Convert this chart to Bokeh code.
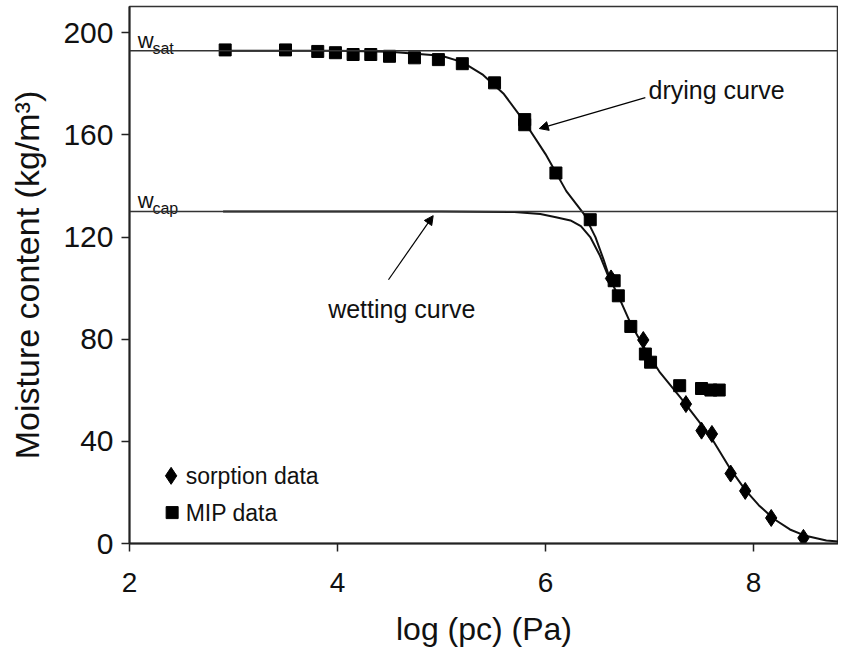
from bokeh.plotting import figure
from bokeh.models import Range1d, Span, Arrow, NormalHead, FixedTicker
from bokeh.core.properties import value
from bokeh.embed import file_html
from bokeh.resources import INLINE

# ---------------- data ----------------
mip_x = [2.92, 3.50, 3.81, 3.98, 4.15, 4.32, 4.50, 4.74, 4.97, 5.20, 5.51, 5.80, 5.80, 6.10, 6.43,
         6.66, 6.70, 6.82, 6.96, 7.01, 7.29, 7.50, 7.59, 7.67]
mip_y = [193.3, 193.3, 192.7, 192.2, 191.5, 191.5, 190.8, 190.2, 189.5, 187.9, 180.4, 166.0, 164.0, 145.1, 126.8,
         102.9, 97.0, 85.0, 74.2, 71.0, 61.8, 60.7, 60.1, 60.1]

sorp_x = [6.63, 6.94, 7.35, 7.50, 7.60, 7.78, 7.92, 8.17, 8.48]
sorp_y = [103.8, 79.7, 54.6, 44.2, 42.9, 27.4, 20.6, 10.0, 2.2]

dry_x = [2.92, 4.00, 4.50, 5.00, 5.20, 5.40, 5.60, 5.80, 6.00, 6.20, 6.37, 6.48, 6.56, 6.62,
         6.70, 6.82, 6.96, 7.10, 7.30, 7.50, 7.60, 7.78, 7.92, 8.05, 8.20, 8.35, 8.50, 8.70, 8.90]
dry_y = [193.0, 193.0, 192.6, 191.0, 188.5, 183.5, 176.0, 165.0, 152.5, 138.0, 129.0, 120.0, 111.0, 103.5,
         97.0, 86.0, 76.0, 67.0, 57.0, 46.5, 41.0, 29.0, 21.0, 15.0, 9.5, 5.5, 3.0, 1.2, 0.4]

wet_x = [2.90, 4.00, 5.00, 5.70, 5.95, 6.10, 6.24, 6.34, 6.43, 6.52, 6.60, 6.62]
wet_y = [130.0, 130.0, 130.0, 129.8, 129.0, 127.8, 126.5, 124.3, 120.0, 113.0, 105.0, 103.5]

w_sat = 193.0
w_cap = 130.0

x_ticks = [2, 4, 6, 8]
y_ticks = [0, 40, 80, 120, 160, 200]

# ---------------- figure ----------------
p = figure(width=838, height=651, output_backend="svg", toolbar_location=None,
           x_range=Range1d(2, 8.817), y_range=Range1d(0, 210.3),
           min_border_left=129, min_border_right=0, min_border_top=6, min_border_bottom=108)
p.background_fill_color = "white"
p.border_fill_color = "white"
p.outline_line_color = "#333333"
p.outline_line_width = 1.5
p.grid.visible = False

FONT = "Liberation Sans"

p.xaxis.ticker = FixedTicker(ticks=x_ticks)
p.yaxis.ticker = FixedTicker(ticks=y_ticks)
for ax in (p.xaxis[0], p.yaxis[0]):
    ax.axis_line_color = "#222222"
    ax.axis_line_width = 2
    ax.major_tick_line_color = "#222222"
    ax.major_tick_line_width = 1.5
    ax.major_tick_out = 8
    ax.major_tick_in = 0
    ax.minor_tick_line_color = None
    ax.major_label_text_font = FONT
    ax.major_label_text_color = "#111111"
    ax.axis_label_text_font = FONT
    ax.axis_label_text_font_style = "normal"
    ax.axis_label_text_color = "#111111"

p.xaxis.major_label_text_font_size = "28px"
p.xaxis.major_label_standoff = 21
p.xaxis.axis_label = "log (pc) (Pa)"
p.xaxis.axis_label_text_font_size = "32px"
p.xaxis.axis_label_standoff = 16

p.yaxis.major_label_text_font_size = "30px"
p.yaxis.major_label_standoff = 8
p.yaxis.axis_label = "Moisture content (kg/m\u00b3)"
p.yaxis.axis_label_text_font_size = "34px"
p.yaxis.axis_label_standoff = 14

# reference lines
p.add_layout(Span(location=w_sat, dimension="width", line_color="#333333", line_width=1.5))
p.add_layout(Span(location=w_cap, dimension="width", line_color="#333333", line_width=1.5))

# curves
p.line(dry_x, dry_y, line_color="#111111", line_width=2)
p.line(wet_x, wet_y, line_color="#111111", line_width=2)

# markers
p.scatter(mip_x, mip_y, marker="square", size=12, fill_color="black", line_color="black")
p.scatter(sorp_x, sorp_y, marker="diamond", size=17, fill_color="black", line_color="black")

# w labels
p.text(x=[2.08, 2.08], y=[197.0, 134.2], text=["w", "w"], text_font=value(FONT),
       text_font_size="22px", text_baseline="alphabetic", text_color="#111111")
p.text(x=[2.22, 2.22], y=[194.0, 131.2], text=["sat", "cap"], text_font=value(FONT),
       text_font_size="16px", text_baseline="alphabetic", text_color="#111111")

# annotations
p.text(x=[6.99, 3.91], y=[177.6, 92.0], text=["drying curve", "wetting curve"], text_font=value(FONT),
       text_font_size="25px", text_baseline="middle", text_align="left", text_color="#111111")
p.add_layout(Arrow(x_start=6.96, y_start=174.6, x_end=5.94, y_end=162.5, line_width=1.2,
                   end=NormalHead(size=9, fill_color="black", line_color="black")))
p.add_layout(Arrow(x_start=4.49, y_start=103.3, x_end=4.92, y_end=128.4, line_width=1.2,
                   end=NormalHead(size=9, fill_color="black", line_color="black")))

# legend (manual)
p.scatter([2.40], [26.5], marker="diamond", size=17, fill_color="black", line_color="black")
p.scatter([2.41], [12.1], marker="square", size=12, fill_color="black", line_color="black")
p.text(x=[2.54, 2.54], y=[26.5, 12.1], text=["sorption data", "MIP data"], text_font=value(FONT),
       text_font_size="23px", text_baseline="middle", text_align="left", text_color="#111111")

open("out.html", "w").write(file_html(p, INLINE))
